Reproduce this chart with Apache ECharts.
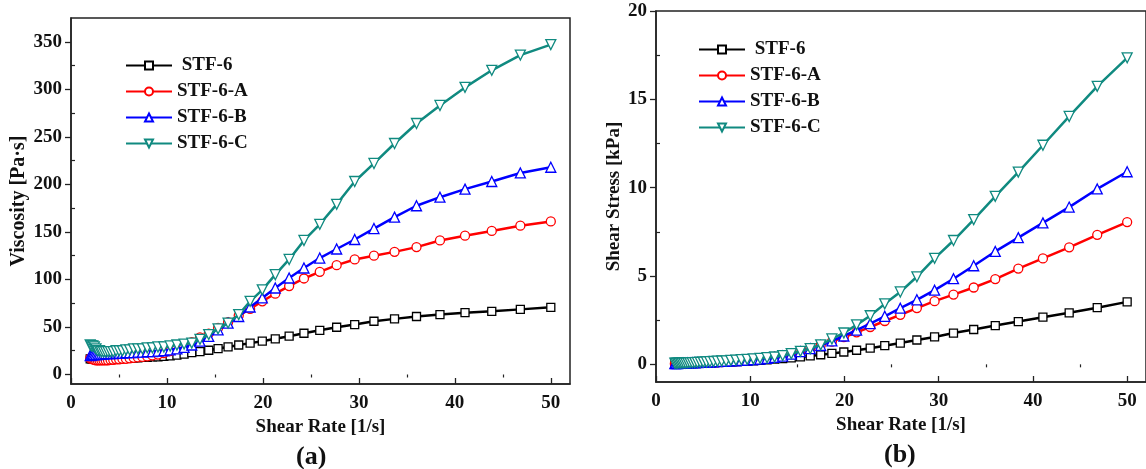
<!DOCTYPE html>
<html>
<head>
<meta charset="utf-8">
<title>STF-6 rheology</title>
<script src="https://cdn.jsdelivr.net/npm/echarts@6/dist/echarts.min.js"></script>
<style>
  html, body { margin: 0; padding: 0; background: #fff; }
  #main { width: 1146px; height: 469px; }
</style>
</head>
<body>
<div id="main"></div>
<script>
// shear rate points (log ramp)
var shearRate = [2.000, 2.136, 2.281, 2.436, 2.601, 2.778, 2.966, 3.168, 3.383, 3.612,
    3.858, 4.120, 4.399, 4.698, 5.017, 5.358, 5.722, 6.110, 6.525, 6.968,
    7.441, 7.946, 8.486, 9.062, 9.677, 10.334, 11.036, 11.785, 12.586, 13.440,
    14.353, 15.327, 16.368, 17.479, 18.666, 19.934, 21.287, 22.732, 24.276, 25.924,
    27.684, 29.564, 31.571, 33.715, 36.004, 38.449, 41.060, 43.847, 46.825, 50.000];

var seriesNames = ['STF-6', 'STF-6-A', 'STF-6-B', 'STF-6-C'];

// viscosity [Pa·s]
var viscSTF6 = [16.5, 16.5, 16.5, 16, 16, 16, 16, 16, 16, 16,
    16, 16, 16.5, 16.5, 16.5, 17, 17, 17, 17.5, 17.5,
    18, 18, 18.5, 18.5, 19, 19.5, 20.3, 21.5, 23, 24,
    25.5, 27.3, 29, 31, 33, 35, 37.5, 40.3, 43.4, 46.5,
    49.7, 52.5, 56, 58.5, 61, 63, 65, 66.5, 68.5, 70.7];
var viscSTF6A = [17, 16.5, 16, 15.5, 15, 15, 15, 15, 15, 15,
    15, 15.5, 15.5, 16, 16, 16.5, 16.5, 17, 17.5, 18,
    18.5, 19, 20, 21, 22.5, 24.5, 27, 30, 34, 39,
    43, 49, 55, 62, 69, 77, 85, 93, 101, 108,
    115, 121, 125, 129, 134, 141, 146, 151, 156.5, 161];
var viscSTF6B = [20, 20.5, 21, 21, 21, 21, 21.5, 21.5, 21.5, 22,
    22, 22, 22, 22.5, 22.5, 22.5, 23, 23, 23, 23.5,
    23.5, 24, 24, 24.5, 25, 26, 27, 28.5, 31, 35,
    40, 47, 54, 61, 71, 80.5, 91, 101.5, 112, 122.5,
    132, 142, 153.5, 165.5, 177.5, 186.5, 195, 203, 212, 218];
var viscSTF6C = [31, 30, 30, 29, 27, 25, 25, 24, 24, 24,
    24, 24, 24, 25, 25, 25, 26, 26, 27, 27,
    27, 28, 28, 29, 29, 30, 31, 32, 33, 37,
    42, 48, 54, 63, 77, 89, 105, 121, 141, 158,
    179, 203, 222, 243, 264, 283, 302, 320, 336, 347];

// shear stress [kPa]
var stressSTF6 = [0.033, 0.035, 0.038, 0.039, 0.042, 0.044, 0.048, 0.051, 0.054, 0.058,
    0.062, 0.066, 0.073, 0.078, 0.083, 0.091, 0.097, 0.104, 0.114, 0.122,
    0.134, 0.143, 0.157, 0.168, 0.184, 0.202, 0.224, 0.253, 0.290, 0.323,
    0.366, 0.418, 0.475, 0.542, 0.616, 0.698, 0.798, 0.916, 1.054, 1.206,
    1.376, 1.552, 1.768, 1.972, 2.196, 2.422, 2.669, 2.916, 3.208, 3.535];
var stressSTF6A = [0.034, 0.035, 0.037, 0.038, 0.039, 0.042, 0.045, 0.048, 0.051, 0.054,
    0.058, 0.064, 0.068, 0.075, 0.080, 0.088, 0.094, 0.104, 0.114, 0.125,
    0.138, 0.151, 0.170, 0.190, 0.218, 0.253, 0.298, 0.354, 0.428, 0.524,
    0.617, 0.751, 0.900, 1.084, 1.288, 1.535, 1.809, 2.114, 2.452, 2.800,
    3.184, 3.577, 3.946, 4.349, 4.825, 5.421, 5.995, 6.621, 7.328, 8.050];
var stressSTF6B = [0.040, 0.044, 0.048, 0.051, 0.055, 0.058, 0.064, 0.068, 0.073, 0.080,
    0.085, 0.091, 0.097, 0.106, 0.113, 0.121, 0.132, 0.141, 0.150, 0.164,
    0.175, 0.191, 0.204, 0.222, 0.242, 0.269, 0.298, 0.336, 0.390, 0.470,
    0.574, 0.720, 0.884, 1.066, 1.325, 1.605, 1.937, 2.307, 2.719, 3.176,
    3.654, 4.198, 4.846, 5.580, 6.391, 7.171, 8.007, 8.901, 9.927, 10.900];
var stressSTF6C = [0.062, 0.064, 0.068, 0.071, 0.070, 0.070, 0.074, 0.076, 0.081, 0.087,
    0.093, 0.099, 0.106, 0.118, 0.125, 0.134, 0.149, 0.159, 0.176, 0.188,
    0.201, 0.223, 0.238, 0.263, 0.281, 0.310, 0.342, 0.377, 0.415, 0.497,
    0.603, 0.736, 0.884, 1.101, 1.437, 1.774, 2.235, 2.751, 3.423, 4.096,
    4.955, 6.002, 7.009, 8.193, 9.505, 10.881, 12.400, 14.031, 15.733, 17.350];

// tick labels
var xTicks = [0, 10, 20, 30, 40, 50];
var xMinorTicks = [5, 15, 25, 35, 45];
var viscTicks = [0, 50, 100, 150, 200, 250, 300, 350];
var viscMinorTicks = [25, 75, 125, 175, 225, 275, 325];
var stressTicks = [0, 5, 10, 15, 20];
var stressMinorTicks = [2.5, 7.5, 12.5, 17.5];

var colors = ['#000000', '#ff0000', '#0000ff', '#108a80'];
var symbols = ['rect', 'circle', 'triangle', 'triangle'];
var symbolSizes = [8, 9, 10, 10];
var symbolRotates = [0, 0, 0, 180];

var FONT = 'Liberation Serif';
var axisColor = '#222';

function pairs(xs, ys) {
    return xs.map(function (x, i) { return [x, ys[i]]; });
}

function mainX(grid, name) {
    return {
        type: 'value', gridIndex: grid, min: 0, max: 52,
        name: name, nameLocation: 'middle', nameGap: 34,
        nameTextStyle: { fontFamily: FONT, fontWeight: 'bold', fontSize: 19, color: '#111' },
        axisLine: { onZero: false, lineStyle: { color: axisColor, width: 1.5 } },
        axisTick: { inside: true, length: 6, customValues: xTicks, lineStyle: { color: axisColor, width: 1.3 } },
        axisLabel: { customValues: xTicks, margin: 10, fontFamily: FONT, fontWeight: 'bold', fontSize: 19, color: '#111' },
        splitLine: { show: false }
    };
}
function minorX(grid) {
    return {
        type: 'value', gridIndex: grid, min: 0, max: 52,
        axisLine: { show: false },
        axisTick: { inside: true, length: 3, customValues: xMinorTicks, lineStyle: { color: axisColor, width: 1.2 } },
        axisLabel: { show: false },
        splitLine: { show: false }
    };
}
function mainY(grid, name, min, max, ticks, gap, nameSize) {
    return {
        type: 'value', gridIndex: grid, min: min, max: max,
        name: name, nameLocation: 'middle', nameGap: gap,
        nameTextStyle: { fontFamily: FONT, fontWeight: 'bold', fontSize: nameSize, color: '#111' },
        axisLine: { onZero: false, lineStyle: { color: axisColor, width: 1.5 } },
        axisTick: { inside: false, length: 6, customValues: ticks, lineStyle: { color: axisColor, width: 1.3 } },
        axisLabel: { customValues: ticks, margin: 9, fontFamily: FONT, fontWeight: 'bold', fontSize: 19, color: '#111' },
        splitLine: { show: false }
    };
}
function minorY(grid, min, max, ticks) {
    return {
        type: 'value', gridIndex: grid, min: min, max: max,
        axisLine: { show: false },
        axisTick: { inside: false, length: 4, customValues: ticks, lineStyle: { color: axisColor, width: 1.2 } },
        axisLabel: { show: false },
        splitLine: { show: false }
    };
}

function makeSeries(idx, axisIdx, data) {
    return {
        name: seriesNames[idx],
        type: 'line',
        xAxisIndex: axisIdx, yAxisIndex: axisIdx,
        data: data,
        symbol: symbols[idx],
        symbolSize: symbolSizes[idx],
        symbolRotate: symbolRotates[idx],
        showAllSymbol: true,
        lineStyle: { color: colors[idx], width: 2.5 },
        itemStyle: { color: '#fff', borderColor: colors[idx], borderWidth: 1.3 },
        emphasis: { disabled: true },
        z: 2 + idx
    };
}

function legendAt(left, top) {
    return {
        orient: 'vertical', left: left, top: top,
        itemWidth: 46, itemHeight: 10, itemGap: 7,
        data: seriesNames,
        selectedMode: false,
        formatter: function (n) { return n === 'STF-6' ? ' ' + n : n; },
        textStyle: { fontFamily: FONT, fontWeight: 'bold', fontSize: 19, color: '#111' }
    };
}

var viscData = [viscSTF6, viscSTF6A, viscSTF6B, viscSTF6C];
var stressData = [stressSTF6, stressSTF6A, stressSTF6B, stressSTF6C];
var series = [];
viscData.forEach(function (v, i) { series.push(makeSeries(i, 0, pairs(shearRate, v))); });
stressData.forEach(function (v, i) { series.push(makeSeries(i, 2, pairs(shearRate, v))); });

var myChart = echarts.init(document.getElementById('main'), null, { renderer: 'canvas' });
var option = {
    animation: false,
    backgroundColor: '#fff',
    grid: [
        { left: 71, top: 18, width: 499, height: 366, show: true, borderColor: axisColor, borderWidth: 1.5, backgroundColor: 'transparent' },
        { left: 656, top: 11, width: 499, height: 371, show: true, borderColor: axisColor, borderWidth: 1.5, backgroundColor: 'transparent' }
    ],
    legend: [legendAt(120, 51), legendAt(693, 35)],
    xAxis: [mainX(0, 'Shear Rate [1/s]'), minorX(0), mainX(1, 'Shear Rate [1/s]'), minorX(1)],
    yAxis: [
        mainY(0, 'Viscosity [Pa·s]', -10, 375, viscTicks, 42, 20),
        minorY(0, -10, 375, viscMinorTicks),
        mainY(1, 'Shear Stress [kPa]', -1, 20, stressTicks, 32, 19),
        minorY(1, -1, 20, stressMinorTicks)
    ],
    graphic: [
        { type: 'text', left: 296, top: 444, style: { text: '(a)', fontFamily: FONT, fontWeight: 'bold', fontSize: 26, fill: '#111' } },
        { type: 'text', left: 884, top: 442, style: { text: '(b)', fontFamily: FONT, fontWeight: 'bold', fontSize: 26, fill: '#111' } }
    ],
    series: series
};
myChart.setOption(option);
</script>
</body>
</html>
